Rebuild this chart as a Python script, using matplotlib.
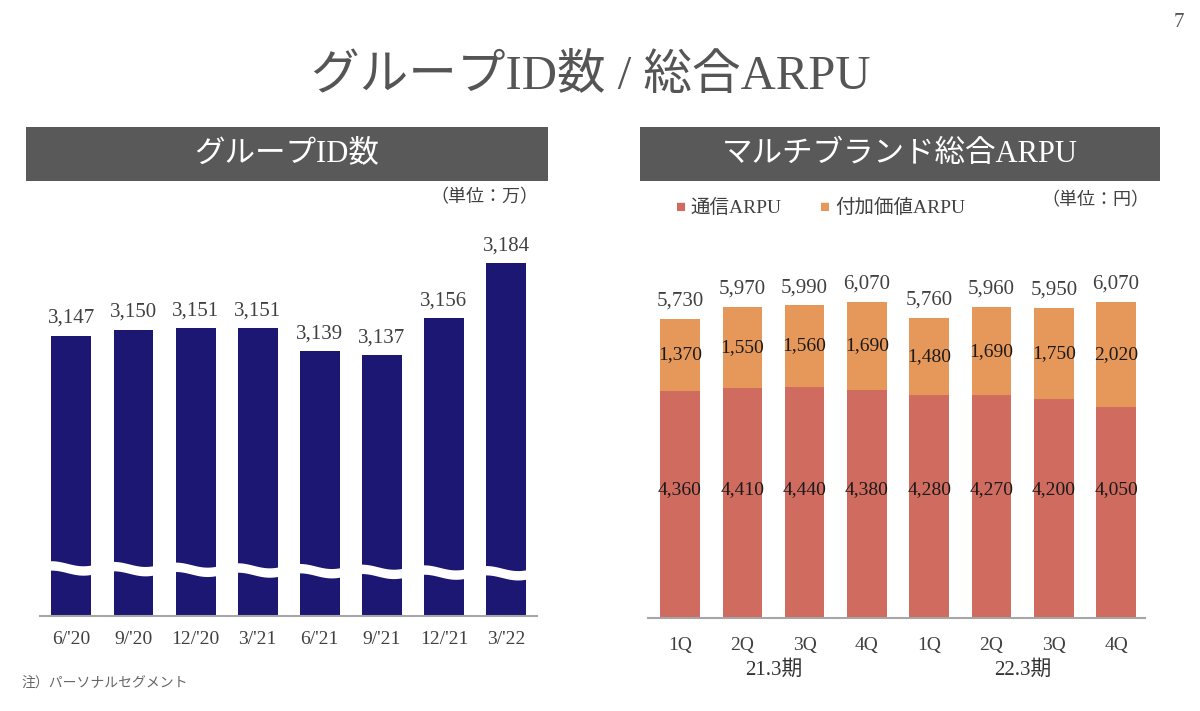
import numpy as np
import matplotlib
matplotlib.use("Agg")
import matplotlib.pyplot as plt
from matplotlib.patches import Rectangle

plt.rcParams['font.family'] = ['Liberation Serif', 'Noto Sans CJK JP', 'DejaVu Sans']

# Data
id_periods = ["6/'20", "9/'20", "12/'20", "3/'21", "6/'21", "9/'21", "12/'21", "3/'22"]
id_counts = [3147, 3150, 3151, 3151, 3139, 3137, 3156, 3184]

quarters = ["1Q", "2Q", "3Q", "4Q", "1Q", "2Q", "3Q", "4Q"]
fiscal_years = ["21.3期", "22.3期"]
comm_arpu = [4360, 4410, 4440, 4380, 4280, 4270, 4200, 4050]
value_arpu = [1370, 1550, 1560, 1690, 1480, 1690, 1750, 2020]
total_arpu = [5730, 5970, 5990, 6070, 5760, 5960, 5950, 6070]

navy = "#1b1772"
red = "#cf6b5f"
orange = "#e6985a"
header_gray = "#595959"
text_gray = "#404040"
axis_gray = "#a6a6a6"

fig = plt.figure(figsize=(12, 7.11), dpi=100)

# Page title and number
fig.text(0.492, 0.893, "グループID数 / 総合ARPU", ha="center", va="center",
         fontsize=35, color="#555555")
fig.text(0.982, 0.968, "7", ha="center", va="center", fontsize=15, color="#555555")

# Header boxes
for x0, w, label in [(0.0217, 0.435, "グループID数"),
                     (0.5333, 0.4333, "マルチブランド総合ARPU")]:
    fig.patches.append(Rectangle((x0, 0.7454), w, 0.0759, transform=fig.transFigure,
                                 facecolor=header_gray, edgecolor="none"))
    fig.text(x0 + w / 2, 0.7454 + 0.0759 / 2, label, ha="center", va="center",
             fontsize=22, color="white")

# Left: group ID count (broken axis)
ax1 = fig.add_axes([0.0333, 0.1336, 0.4142, 0.543])
x = np.arange(len(id_counts))
ax1.bar(x, id_counts, width=0.643, color=navy, zorder=2)
ax1.set_ylim(3004, 3201)
ax1.set_xlim(-0.506, 7.498)
for xi, v in zip(x, id_counts):
    ax1.text(xi, v + 4, f"{v:,}", ha="center", va="bottom", fontsize=15, color=text_gray)

# wavy white break across the bars
xs = np.linspace(-0.5, 7.5, 800)
center = 3028.5 - 0.35 * xs + 1.2 * np.cos(2 * np.pi * (xs + 0.32))
ax1.fill_between(xs, center - 2.4, center + 2.4, color="white", zorder=3, lw=0)

ax1.set_xticks(x)
ax1.set_xticklabels(id_periods, fontsize=14, color=text_gray)
ax1.set_yticks([])
for s in ["top", "right", "left"]:
    ax1.spines[s].set_visible(False)
ax1.spines["bottom"].set_color(axis_gray)
ax1.spines["bottom"].set_linewidth(1.5)
ax1.tick_params(axis="x", length=0, pad=11)
fig.text(0.449, 0.722, "（単位：万）", ha="right", va="center", fontsize=13, color=text_gray)
fig.text(0.018, 0.040, "注）パーソナルセグメント", ha="left", va="center", fontsize=10,
         color="#666666")

# Right: ARPU stacked bars
ax2 = fig.add_axes([0.54, 0.1308, 0.4142, 0.5176])
x2 = np.arange(len(quarters))
ax2.bar(x2, comm_arpu, width=0.634, color=red, zorder=2)
ax2.bar(x2, value_arpu, width=0.634, bottom=comm_arpu, color=orange, zorder=2)
ax2.set_ylim(0, 7060)
ax2.set_xlim(-0.514, 7.465)
for xi, c, v, t in zip(x2, comm_arpu, value_arpu, total_arpu):
    ax2.text(xi, t + 160, f"{t:,}", ha="center", va="bottom", fontsize=15, color=text_gray)
    ax2.text(xi, c + v / 2, f"{v:,}", ha="center", va="center", fontsize=14, color="#1a1a1a")
    ax2.text(xi, 2460, f"{c:,}", ha="center", va="center", fontsize=14, color="#1a1a1a")

ax2.set_xticks(x2)
ax2.set_xticklabels(quarters, fontsize=14, color=text_gray)
ax2.set_yticks([])
for s in ["top", "right", "left"]:
    ax2.spines[s].set_visible(False)
ax2.spines["bottom"].set_color(axis_gray)
ax2.spines["bottom"].set_linewidth(1.5)
ax2.tick_params(axis="x", length=0, pad=14)
for i, fy in enumerate(fiscal_years):
    ax2.text(1.5 + 4 * i, -0.142, fy, transform=ax2.get_xaxis_transform(),
             ha="center", va="center", fontsize=15, color="#333333")

# legend
fig.text(0.5675, 0.7075, "■", ha="center", va="center", fontsize=12, color=red)
fig.text(0.575, 0.7075, "通信ARPU", ha="left", va="center", fontsize=14, color=text_gray)
fig.text(0.6875, 0.7075, "■", ha="center", va="center", fontsize=12, color=orange)
fig.text(0.696, 0.7075, "付加価値ARPU", ha="left", va="center", fontsize=14, color=text_gray)
fig.text(0.958, 0.718, "（単位：円）", ha="right", va="center", fontsize=13, color=text_gray)

fig.savefig("out.png", dpi=100)
